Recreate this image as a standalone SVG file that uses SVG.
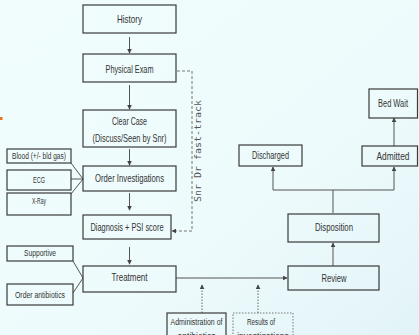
<svg xmlns="http://www.w3.org/2000/svg" width="419" height="335" viewBox="0 0 419 335">
<defs>
<linearGradient id="bg" x1="0" y1="0" x2="1" y2="1">
<stop offset="0" stop-color="#f1fdfd"/>
<stop offset="0.6" stop-color="#eefbfc"/>
<stop offset="1" stop-color="#e2f3f8"/>
</linearGradient>
<marker id="ah" viewBox="0 0 8 8" refX="7" refY="4" markerWidth="5" markerHeight="5" orient="auto" markerUnits="userSpaceOnUse">
<path d="M0,0 L8,4 L0,8 z" fill="#444"/>
</marker>
</defs>
<style>
.box{fill:none;stroke:#3a3a3a;stroke-width:1.2}
.dbox{fill:none;stroke:#777;stroke-width:1;stroke-dasharray:1.5,1.5}
.t{font-family:"Liberation Sans",Arial,sans-serif;font-size:10.5px;fill:#333;text-anchor:middle}
.s{font-family:"Liberation Sans",Arial,sans-serif;font-size:8.5px;fill:#333;text-anchor:middle}
.ln{fill:none;stroke:#555;stroke-width:1}
.dash{fill:none;stroke:#777;stroke-width:1;stroke-dasharray:3,2}
.dot{fill:none;stroke:#666;stroke-width:1;stroke-dasharray:1.5,1.5}
</style>
<rect width="419" height="335" fill="url(#bg)"/>
<rect x="0" y="117" width="2.5" height="3" fill="#f07020"/>

<g id="connectors">
<line class="ln" x1="129.5" y1="37" x2="129.5" y2="53" marker-end="url(#ah)"/>
<line class="ln" x1="129.5" y1="85" x2="129.5" y2="109" marker-end="url(#ah)"/>
<line class="ln" x1="129.5" y1="149" x2="129.5" y2="165" marker-end="url(#ah)"/>
<line class="ln" x1="129.5" y1="193" x2="129.5" y2="210" marker-end="url(#ah)"/>
<line class="ln" x1="129.5" y1="247" x2="129.5" y2="264" marker-end="url(#ah)"/>
<polyline class="dash" points="177,71 192,71 192,231 172,231" marker-end="url(#ah)"/>
<line class="ln" x1="71" y1="163" x2="83" y2="179"/>
<line class="ln" x1="71" y1="179" x2="83" y2="179"/>
<line class="ln" x1="71" y1="194" x2="83" y2="179"/>
<line class="ln" x1="73" y1="261" x2="83" y2="278"/>
<line class="ln" x1="73" y1="293" x2="83" y2="278"/>
<line class="ln" x1="176" y1="278" x2="287" y2="278" marker-end="url(#ah)"/>
<line class="ln" x1="333" y1="266" x2="333" y2="243" marker-end="url(#ah)"/>
<polyline class="ln" points="333,213 333,190 273,190 273,167" marker-end="url(#ah)"/>
<polyline class="ln" points="333,190 394,190 394,167" marker-end="url(#ah)"/>
<line class="ln" x1="394" y1="146" x2="394" y2="118" marker-end="url(#ah)"/>
<line class="dot" x1="202" y1="313" x2="202" y2="285" marker-end="url(#ah)"/>
<line class="dot" x1="258" y1="313" x2="258" y2="285" marker-end="url(#ah)"/>
<text x="0" y="0" transform="translate(201,151) rotate(-90)" font-family="'DejaVu Sans Mono',monospace" font-size="9.5" fill="#555" text-anchor="middle" textLength="102" lengthAdjust="spacingAndGlyphs">Snr Dr fast-track</text>
</g>

<g id="history"><rect class="box" x="83" y="5" width="93" height="28"/><text class="t" x="129.5" y="23" textLength="25" lengthAdjust="spacingAndGlyphs">History</text></g>
<g id="physical-exam"><rect class="box" x="83" y="54" width="93" height="28"/><text class="t" x="129.5" y="73" textLength="48" lengthAdjust="spacingAndGlyphs">Physical Exam</text></g>
<g id="clear-case"><rect class="box" x="83" y="110" width="93" height="37"/><text class="t" x="129.5" y="125" textLength="35" lengthAdjust="spacingAndGlyphs">Clear Case</text><text class="t" x="129.5" y="142" textLength="74" lengthAdjust="spacingAndGlyphs">(Discuss/Seen by Snr)</text></g>
<g id="order-investigations"><rect class="box" x="83" y="166" width="93" height="25"/><text class="t" x="129.5" y="182" textLength="69" lengthAdjust="spacingAndGlyphs">Order Investigations</text></g>
<g id="diagnosis"><rect class="box" x="83" y="215" width="88" height="24"/><text class="t" x="127" y="231" textLength="73" lengthAdjust="spacingAndGlyphs">Diagnosis + PSI score</text></g>
<g id="treatment"><rect class="box" x="83" y="266" width="93" height="26"/><text class="t" x="129.5" y="281" textLength="36" lengthAdjust="spacingAndGlyphs">Treatment</text></g>

<g id="blood"><rect class="box" x="7" y="149" width="64" height="14"/><text class="s" x="39" y="159" textLength="54" lengthAdjust="spacingAndGlyphs">Blood (+/- bld gas)</text></g>
<g id="ecg"><rect class="box" x="7" y="170" width="64" height="20"/><text class="s" x="39" y="183" textLength="12" lengthAdjust="spacingAndGlyphs">ECG</text></g>
<g id="xray"><rect class="box" x="7" y="193" width="64" height="22"/><text class="s" x="39" y="204" textLength="14" lengthAdjust="spacingAndGlyphs">X-Ray</text></g>
<g id="supportive"><rect class="box" x="7" y="246" width="66" height="15"/><text class="s" x="40" y="256" textLength="32" lengthAdjust="spacingAndGlyphs">Supportive</text></g>
<g id="order-antibiotics"><rect class="box" x="7" y="284" width="66" height="21"/><text class="s" x="40" y="298" textLength="50" lengthAdjust="spacingAndGlyphs">Order antibiotics</text></g>

<g id="review"><rect class="box" x="288" y="266" width="91" height="24"/><text class="t" x="334" y="282" textLength="25" lengthAdjust="spacingAndGlyphs">Review</text></g>
<g id="disposition"><rect class="box" x="288" y="214" width="91" height="28"/><text class="t" x="334" y="231" textLength="38" lengthAdjust="spacingAndGlyphs">Disposition</text></g>
<g id="discharged"><rect class="box" x="239" y="145" width="63" height="21"/><text class="t" x="270.5" y="159" textLength="37" lengthAdjust="spacingAndGlyphs">Discharged</text></g>
<g id="admitted"><rect class="box" x="362" y="146" width="55.5" height="20"/><text class="t" x="393" y="160" textLength="33" lengthAdjust="spacingAndGlyphs">Admitted</text></g>
<g id="bed-wait"><rect class="box" x="369" y="89" width="48.5" height="29"/><text class="t" x="393" y="107" textLength="30" lengthAdjust="spacingAndGlyphs">Bed Wait</text></g>

<g id="administration"><rect class="box" x="167" y="313" width="59" height="30"/><text class="s" x="196.5" y="325" textLength="52" lengthAdjust="spacingAndGlyphs">Administration of</text><text class="s" x="196.5" y="339">antibiotics</text></g>
<g id="results"><rect class="dbox" x="233" y="313" width="60" height="30"/><text class="s" x="261" y="325" textLength="28" lengthAdjust="spacingAndGlyphs">Results of</text><text class="s" x="263" y="339">investigations</text></g>
</svg>
